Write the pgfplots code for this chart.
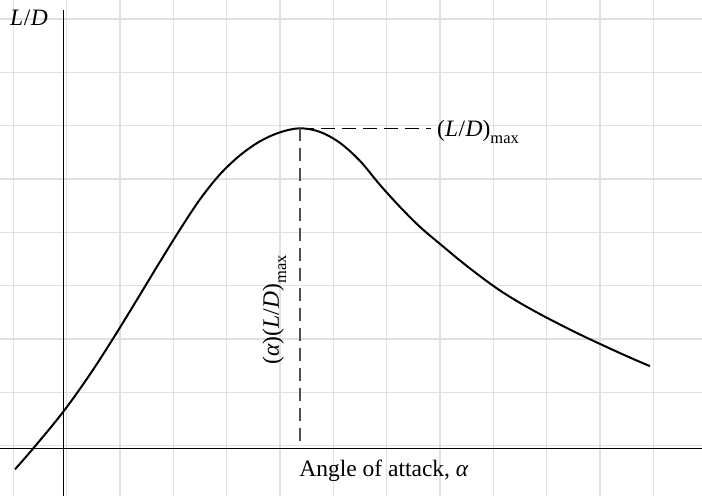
\documentclass[border=0pt]{standalone}
\usepackage{pgfplots}
\pgfplotsset{compat=1.18}
\usepackage{fontspec}
\setmainfont{Liberation Serif}
\definecolor{gridgray}{HTML}{E0E0E0}
\definecolor{dashgray}{HTML}{505050}
\newcommand{\LD}{(\textit{L}\kern0.5pt/\kern0.5pt\textit{D})}
\newcommand{\submax}{\raisebox{-0.3em}{\fontsize{16.5}{18}\selectfont max}}
\begin{document}
\begin{tikzpicture}
\begin{axis}[
  scale only axis,
  width=702pt, height=496pt,
  xmin=-1.187, xmax=11.976,
  ymin=-0.894, ymax=8.406,
  axis line style={draw=none},
  xtick=\empty, ytick=\empty,
  clip=false,
  font=\fontsize{23.5}{27}\selectfont,
]
\coordinate (bl) at (rel axis cs:0,0);
\coordinate (tr) at (rel axis cs:1,1);

% background grid, one unit apart
\pgfplotsinvokeforeach{0,...,12}{
  \draw[gridgray, line width=1.2pt] (axis cs:{#1-0.937},-0.894) -- (axis cs:{#1-0.937},8.406);
}
\pgfplotsinvokeforeach{0,...,9}{
  \draw[gridgray, line width=1.2pt] (axis cs:-1.187,{#1-0.951}) -- (axis cs:11.976,{#1-0.951});
}

% coordinate axes
\draw[black, line width=0.9pt] (axis cs:-1.187,0) -- (axis cs:11.976,0);
\draw[black, line width=0.9pt] (axis cs:0,-0.894) -- (axis cs:0,8.218);

% lift-to-drag ratio versus angle of attack
\addplot[black, line width=2pt, smooth, tension=0.55] coordinates {
  (-0.9056,-0.3938) (-0.5625,0.0) (0.0,0.6863) (0.5006,1.3875)
  (0.9694,2.115) (1.4381,2.88) (1.8131,3.4988) (2.1881,4.1025)
  (2.5631,4.6688) (2.9381,5.1375) (3.3131,5.4938) (3.6881,5.7563)
  (4.0631,5.925) (4.4381,6.0) (4.8131,5.9325) (5.1881,5.7263)
  (5.5631,5.3888) (5.9381,4.9388) (6.3131,4.5263) (6.6881,4.1513)
  (7.0631,3.8325) (7.4381,3.5213) (7.8131,3.2288) (8.1881,2.9588)
  (8.5631,2.7263) (8.9381,2.5163) (9.3131,2.3213) (9.6881,2.1338)
  (10.0631,1.9575) (10.4381,1.785) (10.8131,1.62) (11.0006,1.5413)
};

% maximum L/D markers
\addplot[dashgray, line width=1.4pt, dash pattern=on 13pt off 7pt] coordinates {(4.4381,6.0) (4.4381,0)};
\addplot[black, line width=1.4pt, dash pattern=on 14pt off 7pt] coordinates {(4.4381,6.0) (6.90,6.0)};

\node[anchor=base west, inner sep=0pt] at (axis cs:7.007,5.843) {\LD\submax};
\node[rotate=90, anchor=base west, inner sep=0pt] at (axis cs:4.044,1.562) {(\textit{α})\LD\submax};
\node[anchor=base, inner sep=0pt] at (axis cs:6.014,-0.532) {Angle of attack, \textit{α}};
\node[anchor=base west, inner sep=0pt] at (axis cs:-0.999,7.936) {\textit{L}\kern0.5pt/\kern0.5pt\textit{D}};
\end{axis}
\pgfresetboundingbox
\useasboundingbox (bl) rectangle (tr);
\end{tikzpicture}
\end{document}
